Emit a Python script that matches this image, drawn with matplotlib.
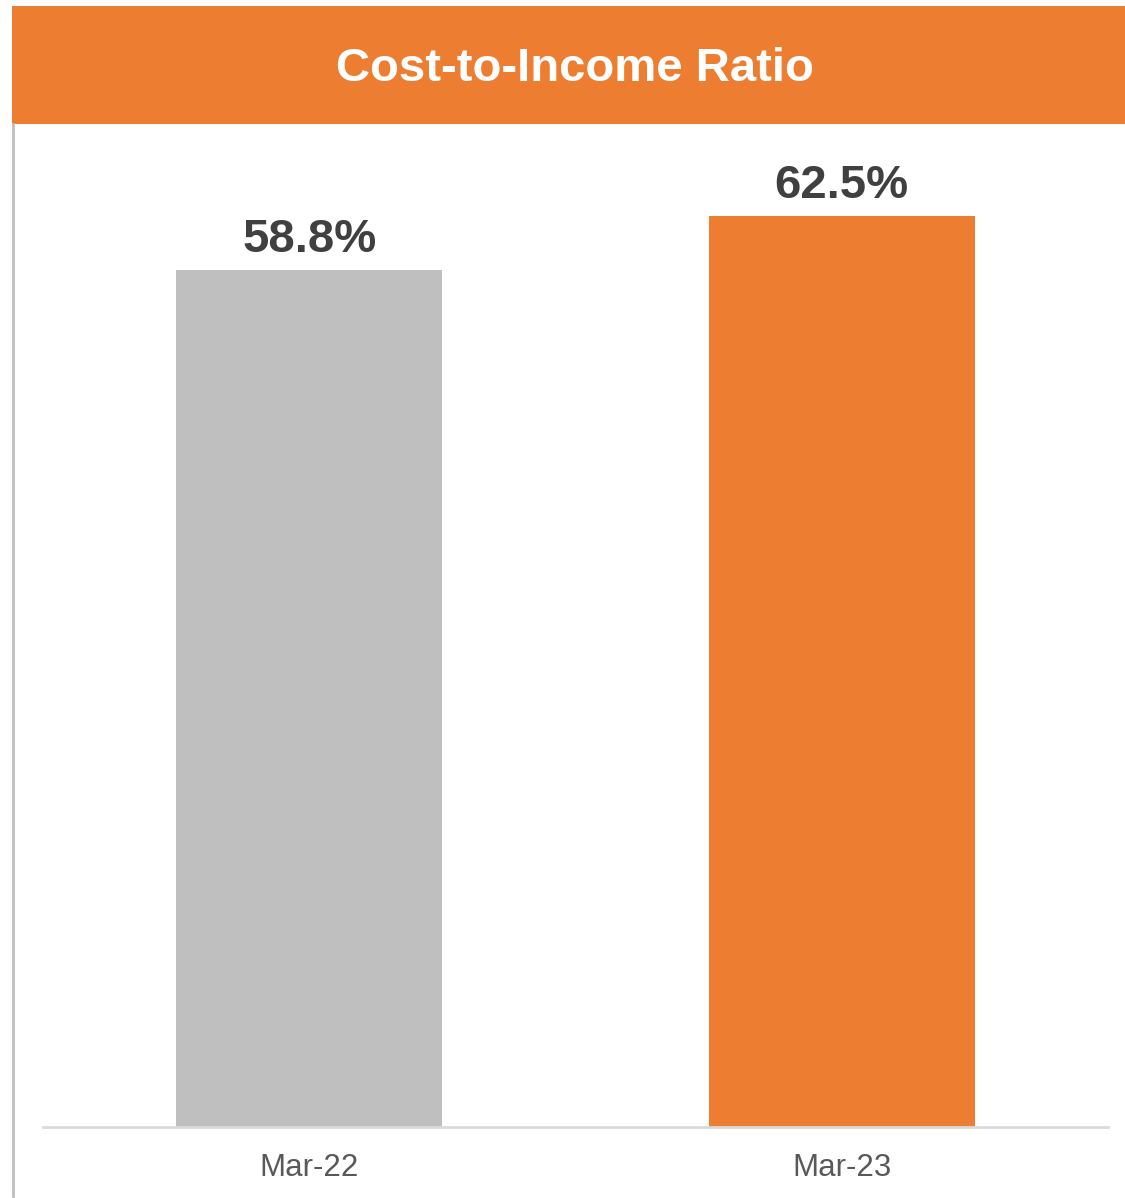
import matplotlib
matplotlib.use("Agg")
import matplotlib.pyplot as plt
from matplotlib.patches import Rectangle
from matplotlib.lines import Line2D

categories = ["Mar-22", "Mar-23"]
values = [58.8, 62.5]
labels = ["58.8%", "62.5%"]
bar_colors = ["#BFBFBF", "#ED7D31"]
title = "Cost-to-Income Ratio"

W, H = 1125, 1198
fig = plt.figure(figsize=(W / 100, H / 100), dpi=100)
fig.patch.set_facecolor("white")
plt.rcParams["font.family"] = ["Liberation Sans", "DejaVu Sans"]

def fx(px):
    return px / W

def fy(py):
    return 1 - py / H

# Header band
fig.patches.append(Rectangle((fx(12), fy(124)), fx(1125) - fx(12), fy(6) - fy(124),
                             transform=fig.transFigure, facecolor="#ED7D31",
                             edgecolor="none", zorder=0))
fig.text(fx(575), fy(69), title, color="white", fontsize=34, fontweight="bold",
         ha="center", va="center")

# Left border line
fig.lines.append(Line2D([fx(13), fx(13)], [fy(124), fy(1196)], transform=fig.transFigure,
                        color="#BFBFBF", lw=2))

# Axes
ax_left, ax_right = 43, 1108
ax_bottom, ax_top = 1127, 130
ax = fig.add_axes([fx(ax_left), fy(ax_bottom), fx(ax_right) - fx(ax_left), fy(ax_top) - fy(ax_bottom)])
ax.set_facecolor("none")
x = list(range(len(categories)))
ax.bar(x, values, width=0.5, color=bar_colors, zorder=2)
ax.set_xlim(-0.5, 1.5)
ax.set_ylim(0, 68.4)
for xi, v, lab in zip(x, values, labels):
    ax.annotate(lab, (xi, v), xytext=(0, 6), textcoords="offset points",
                ha="center", va="bottom", fontsize=34, fontweight="bold", color="#404040")

for s in ["top", "right", "left"]:
    ax.spines[s].set_visible(False)
ax.spines["bottom"].set_color("#D9D9D9")
ax.spines["bottom"].set_linewidth(2)
ax.spines["bottom"].set_zorder(3)
ax.set_yticks([])
ax.set_xticks(x)
ax.set_xticklabels(categories, fontsize=22.5, color="#595959")
ax.tick_params(axis="x", length=0, pad=19)

fig.savefig("out.png", dpi=100)
